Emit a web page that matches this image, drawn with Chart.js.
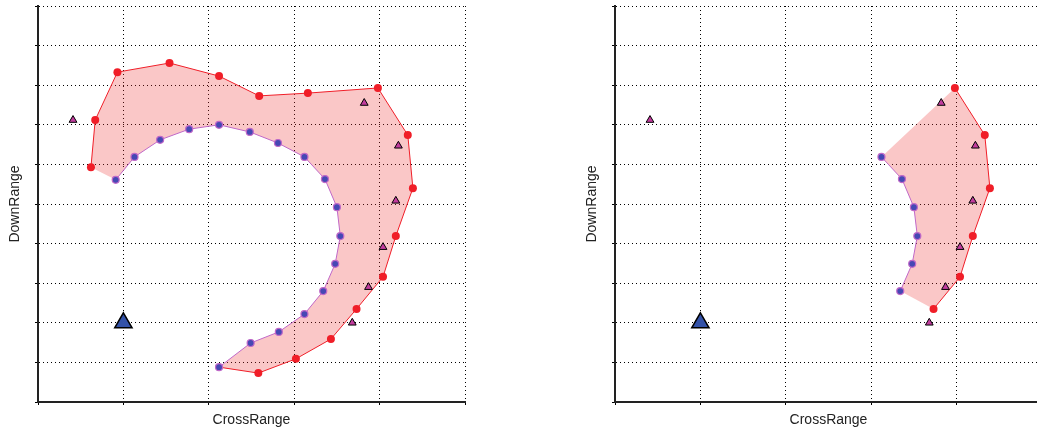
<!DOCTYPE html>
<html>
<head>
<meta charset="utf-8">
<script src="https://cdn.jsdelivr.net/npm/chart.js@4.4.0/dist/chart.umd.min.js"></script>
<style>
    html, body { margin: 0; padding: 0; background: #fff; overflow: hidden; width: 1037px; height: 433px; }
    canvas { position: absolute; top: 0; }
    #left-chart { left: 0; }
    #right-chart { left: 577px; }
</style>
</head>
<body>
<canvas id="left-chart" width="470" height="433"></canvas>
<canvas id="right-chart" width="470" height="433"></canvas>
<script>
// --- DATOS ---
// contorno exterior (rojo)
const outerX = [0.62, 0.67, 0.93, 1.54, 2.12, 2.59, 3.16, 3.98, 4.33, 4.39, 4.19, 4.04, 3.73, 3.43, 3.02, 2.58];
const outerY = [5.93, 7.12, 8.33, 8.56, 8.23, 7.73, 7.80, 7.93, 6.74, 5.40, 4.19, 3.16, 2.35, 1.59, 1.09, 0.73];
// contorno interior (azul)
const innerX = [0.91, 1.13, 1.43, 1.77, 2.12, 2.48, 2.81, 3.12, 3.36, 3.50, 3.54, 3.48, 3.34, 3.12, 2.82, 2.49, 2.12];
const innerY = [5.61, 6.19, 6.62, 6.89, 7.00, 6.82, 6.54, 6.19, 5.63, 4.92, 4.19, 3.49, 2.80, 2.22, 1.77, 1.49, 0.88];
// triangulos pequeños
const markX = [0.41, 3.82, 4.22, 4.19, 4.04, 3.87, 3.68];
const markY = [7.12, 7.55, 6.47, 5.08, 3.91, 2.90, 2.00];
// triangulo grande
const originX = [1.0];
const originY = [2.0];
// tramo que se ve en el panel derecho
const rightFrom = 7;
const rightTo = 12;

const X_TITLE = 'CrossRange';
const Y_TITLE = 'DownRange';

const RED = '#F01E28';
const PURPLE = '#C068C8';

const pts = (xs, ys) => xs.map((x, i) => ({ x, y: ys[i] }));

function buildChart(canvasId, outer, inner, joinEnds) {
    // poligono relleno: exterior + interior invertido
    const shape = outer.concat(inner.slice().reverse());
    // linea roja (en el panel izquierdo termina en el ultimo punto azul)
    const redLine = joinEnds ? outer.concat([inner[inner.length - 1]]) : outer;
    const nRed = outer.length;

    return new Chart(document.getElementById(canvasId), {
        type: 'scatter',
        data: {
            datasets: [
                {
                    data: pts(originX, originY),
                    pointStyle: 'triangle',
                    pointRadius: 10,
                    pointBackgroundColor: '#3352A8',
                    pointBorderColor: '#000',
                    pointBorderWidth: 1.5
                },
                {
                    data: pts(markX, markY),
                    pointStyle: 'triangle',
                    pointRadius: 4.5,
                    pointBackgroundColor: '#C23C9E',
                    pointBorderColor: '#000',
                    pointBorderWidth: 1
                },
                {
                    data: inner,
                    showLine: true,
                    borderColor: PURPLE,
                    borderWidth: 1,
                    pointRadius: 3.5,
                    pointBackgroundColor: '#4648B4',
                    pointBorderColor: PURPLE,
                    pointBorderWidth: 1.2
                },
                {
                    data: redLine,
                    showLine: true,
                    borderColor: RED,
                    borderWidth: 1,
                    pointRadius: ctx => ctx.dataIndex < nRed ? 4 : 0,
                    pointBackgroundColor: RED,
                    pointBorderColor: RED,
                    pointBorderWidth: 0
                },
                {
                    data: shape,
                    showLine: true,
                    fill: 'shape',
                    backgroundColor: 'rgba(238, 48, 48, 0.27)',
                    borderColor: 'transparent',
                    borderWidth: 0,
                    pointRadius: 0
                }
            ]
        },
        options: {
            responsive: false,
            animation: false,
            devicePixelRatio: 1,
            layout: { autoPadding: false, padding: { top: 6, right: 5, left: 0, bottom: 0 } },
            plugins: { legend: { display: false }, tooltip: { enabled: false } },
            scales: {
                x: {
                    type: 'linear',
                    min: 0, max: 5,
                    ticks: { display: false, stepSize: 1 },
                    grid: { color: '#000', drawTicks: true, tickLength: 3, tickColor: '#000' },
                    border: { display: true, color: '#222', width: 2, dash: [1, 3] },
                    title: { display: true, text: X_TITLE, color: '#222', font: { size: 14, family: "'Liberation Sans', Arial, sans-serif" }, padding: { top: 4, bottom: 4 } },
                    afterFit: s => { s.height = 31; }
                },
                y: {
                    type: 'linear',
                    min: 0, max: 10,
                    ticks: { display: false, stepSize: 1 },
                    grid: { color: '#000', drawTicks: true, tickLength: 3, tickColor: '#000' },
                    border: { display: true, color: '#222', width: 2, dash: [1, 3] },
                    title: { display: true, text: Y_TITLE, color: '#222', font: { size: 14, family: "'Liberation Sans', Arial, sans-serif" }, padding: { top: 7, bottom: 4 } },
                    afterFit: s => { s.width = 38; }
                }
            }
        }
    });
}

const outerPts = pts(outerX, outerY);
const innerPts = pts(innerX, innerY);

buildChart('left-chart', outerPts, innerPts, true);
buildChart('right-chart', outerPts.slice(rightFrom, rightTo + 1), innerPts.slice(rightFrom, rightTo + 1), false);
</script>
</body>
</html>
